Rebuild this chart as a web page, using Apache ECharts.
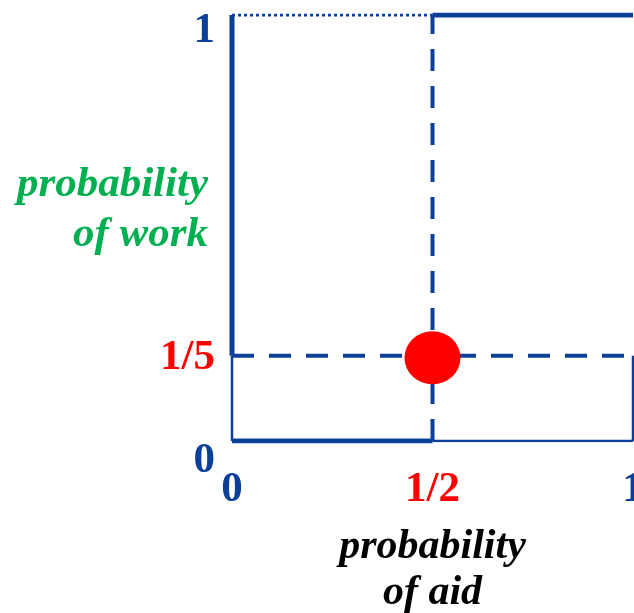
<!DOCTYPE html>
<html>
<head>
<meta charset="utf-8">
<script src="https://cdn.jsdelivr.net/npm/echarts@6/dist/echarts.min.js"></script>
<style>
  html, body { margin: 0; padding: 0; background: #fff; }
  #chart { width: 634px; height: 613px; }
</style>
</head>
<body>
<div id="chart"></div>
<script>
// x = probability of aid, y = probability of work
const xTicks = [0, 0.5, 1];
const xTickLabels = ['0', '1/2', '1'];
const yTicks = [0, 0.2, 1];
const yTickLabels = ['0', '1/5', '1'];

// best-response segments, each [[x0, y0], [x1, y1]]
const thickSegments = [
  [[0, 0.2], [0, 1]],
  [[0, 0], [0.5, 0]],
  [[0.5, 1], [1, 1]]
];
const thinSegments = [
  [[0, 0], [0, 0.2]],
  [[0.5, 0], [1, 0]],
  [[1, 0], [1, 0.2]]
];
const dashedSegments = [
  [[0.5, 0], [0.5, 1]],
  [[0, 0.2], [1, 0.2]]
];
const dottedSegments = [
  [[0, 1], [0.5, 1]]
];
const equilibrium = [[0.5, 0.2]];

const BLUE = '#0c3f98';
const RED = '#ff0000';
const GREEN = '#00b050';
const SERIF = '"Liberation Serif", "Times New Roman", serif';

function segSeries(segs, width, type) {
  return segs.map((s) => ({
    type: 'line',
    data: s,
    symbol: 'none',
    silent: true,
    lineStyle: { color: BLUE, width: width, type: type, cap: 'butt' },
    z: 2
  }));
}

function near(v, t) { return Math.abs(v - t) < 1e-6; }

const chart = echarts.init(document.getElementById('chart'));
chart.setOption({
  animation: false,
  backgroundColor: '#fff',
  grid: { left: 232, right: 1, top: 15, bottom: 172, containLabel: false, outerBoundsMode: 'none' },
  xAxis: {
    type: 'value',
    min: 0,
    max: 1,
    interval: 0.5,
    axisLine: { show: false },
    axisTick: { show: false },
    splitLine: { show: false },
    axisLabel: {
      margin: 27,
      showMinLabel: true,
      showMaxLabel: true,
      fontFamily: SERIF,
      fontWeight: 'bold',
      fontSize: 42,
      formatter: (v) => {
        const i = xTicks.findIndex((t) => near(v, t));
        if (i < 0) return '';
        return i === 1 ? '{r|' + xTickLabels[i] + '}' : '{b|' + xTickLabels[i] + '}';
      },
      rich: {
        r: { color: RED, fontFamily: SERIF, fontWeight: 'bold', fontSize: 43 },
        b: { color: BLUE, fontFamily: SERIF, fontWeight: 'bold', fontSize: 43 }
      }
    },
    name: 'probability\nof aid',
    nameLocation: 'middle',
    nameGap: 83,
    nameMoveOverlap: false,
    nameTextStyle: {
      color: '#000',
      fontFamily: SERIF,
      fontWeight: 'bold',
      fontStyle: 'italic',
      fontSize: 42,
      lineHeight: 46,
      verticalAlign: 'top'
    }
  },
  yAxis: {
    type: 'value',
    min: 0,
    max: 1,
    interval: 0.2,
    axisLine: { show: false },
    axisTick: { show: false },
    splitLine: { show: false },
    axisLabel: {
      margin: 17,
      showMinLabel: true,
      showMaxLabel: true,
      formatter: (v) => {
        const i = yTicks.findIndex((t) => near(v, t));
        if (i < 0) return '';
        const key = i === 0 ? 'z' : i === 1 ? 'r' : 'o';
        return '{' + key + '|' + yTickLabels[i] + '}';
      },
      rich: {
        z: { color: BLUE, fontFamily: SERIF, fontWeight: 'bold', fontSize: 43, padding: [40, 0, 0, 0] },
        r: { color: RED, fontFamily: SERIF, fontWeight: 'bold', fontSize: 43, padding: [4, 0, 0, 0] },
        o: { color: BLUE, fontFamily: SERIF, fontWeight: 'bold', fontSize: 43, padding: [32, 0, 0, 0] }
      }
    },
    // trailing spacer line lifts the two-line name above the axis centre
    name: '{g|probability}\n{g|of work}\n{s| }',
    nameLocation: 'middle',
    nameRotate: 0,
    nameGap: 24,
    nameMoveOverlap: false,
    nameTextStyle: {
      align: 'right',
      verticalAlign: 'middle',
      rich: {
        g: {
          color: GREEN,
          fontFamily: SERIF,
          fontWeight: 'bold',
          fontStyle: 'italic',
          fontSize: 43,
          lineHeight: 50,
          align: 'right'
        },
        s: { fontSize: 10, lineHeight: 36, align: 'right' }
      }
    }
  },
  series: [
    ...segSeries(dottedSegments, 3, [3, 3]),
    ...segSeries(thinSegments, 2.5, 'solid'),
    ...segSeries(dashedSegments, 4, [22, 15]),
    ...segSeries(thickSegments, 5, 'solid'),
    {
      type: 'scatter',
      data: equilibrium,
      symbol: 'circle',
      symbolSize: [56, 53],
      symbolOffset: [0, 2],
      itemStyle: { color: RED, opacity: 1 },
      silent: true,
      z: 5
    }
  ]
});
</script>
</body>
</html>
